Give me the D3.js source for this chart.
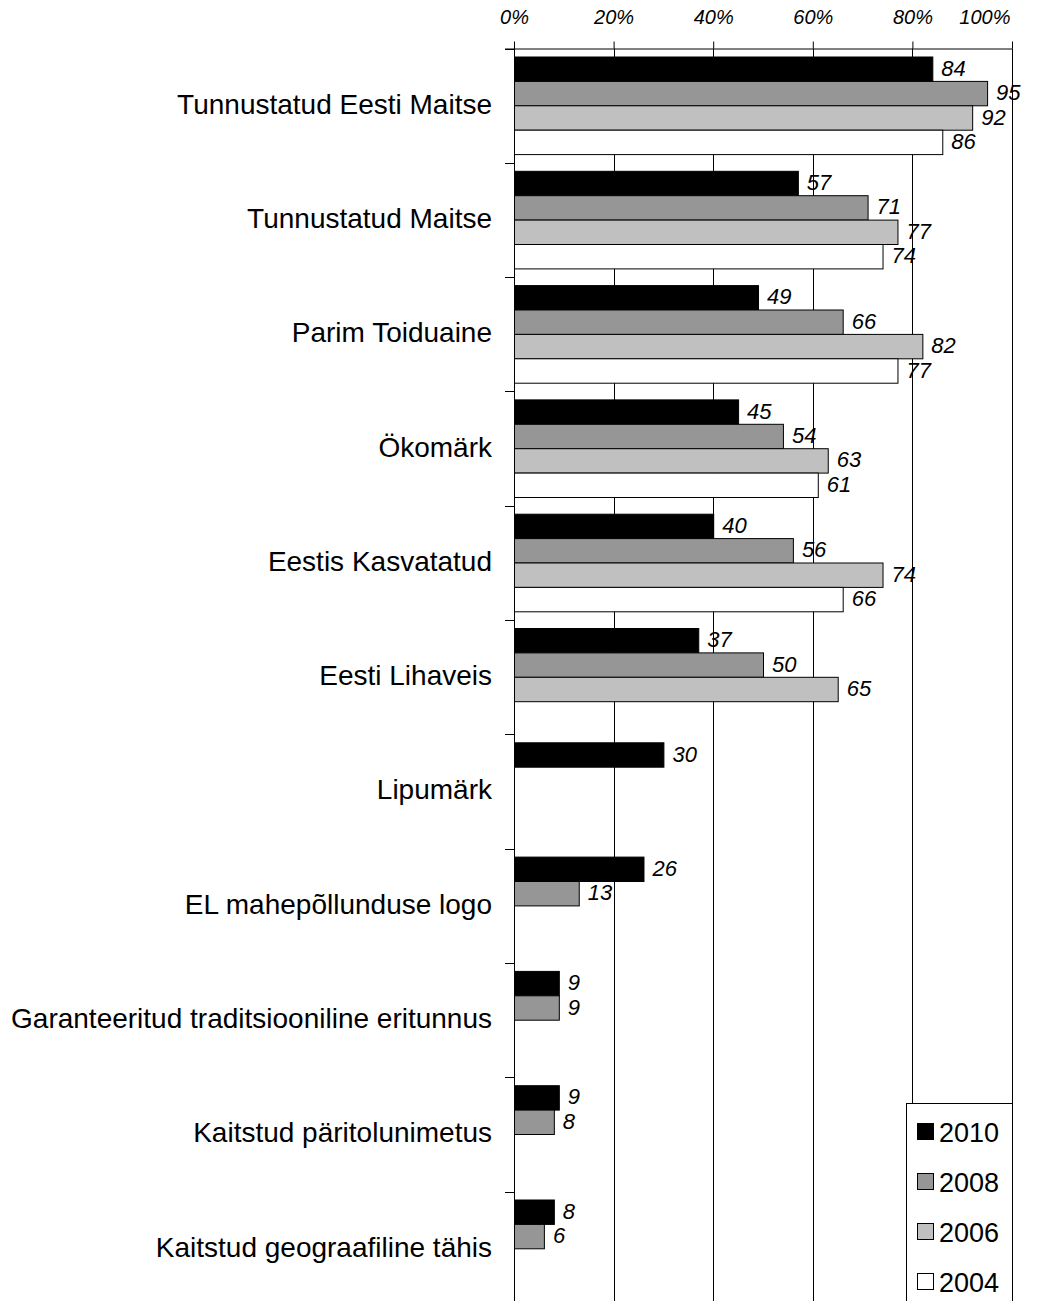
<!DOCTYPE html>
<html><head><meta charset="utf-8">
<script src="https://cdn.jsdelivr.net/npm/d3@7"></script>
<style>
html,body{margin:0;padding:0;background:#fff;}
svg{display:block;font-family:"Liberation Sans",Arial,sans-serif;}
</style></head>
<body><svg id="c" width="1046" height="1301"></svg>
<script>
const categories = ["Tunnustatud Eesti Maitse","Tunnustatud Maitse","Parim Toiduaine","Ökomärk","Eestis Kasvatatud","Eesti Lihaveis","Lipumärk","EL mahepõllunduse logo","Garanteeritud traditsiooniline eritunnus","Kaitstud päritolunimetus","Kaitstud geograafiline tähis"];
const seriesNames = ["2010","2008","2006","2004"];
const v2010 = [84,57,49,45,40,37,30,26,9,9,8];
const v2008 = [95,71,66,54,56,50,null,13,9,8,6];
const v2006 = [92,77,82,63,74,65,null,null,null,null,null];
const v2004 = [86,74,77,61,66,null,null,null,null,null,null];
const seriesColors = ["#000000","#969696","#c0c0c0","#ffffff"];
const tickValues = [0,20,40,60,80,100];

const values = [v2010,v2008,v2006,v2004];
const svg = d3.select("#c");
const x0 = 514, x1 = 1012, yTop = 48.5, band = 114.3;
const x = d3.scaleLinear().domain([0,100]).range([x0,x1]);
const y = d3.scaleBand().domain(categories).range([yTop, yTop + band*categories.length]).padding(0);
const ys = d3.scaleBand().domain(seriesNames).range([8.5, 8.5+97.6]).padding(0);

// gridlines
svg.append("g").selectAll("line").data(tickValues).join("line")
  .attr("x1", d=>Math.round(x(d))+0.5).attr("x2", d=>Math.round(x(d))+0.5)
  .attr("y1", yTop).attr("y2", 1301)
  .attr("stroke","#000").attr("stroke-width",1);

// top axis
const ax = svg.append("g").attr("transform",`translate(0,${yTop})`)
  .call(d3.axisTop(x).tickValues(tickValues).tickFormat(d=>d+"%").tickSize(7).tickSizeOuter(0));
ax.select(".domain").remove();
ax.append("line").attr("x1",505).attr("x2",x1+0.5).attr("y1",0.5).attr("y2",0.5).attr("stroke","#000");
ax.selectAll(".tick line").attr("stroke","#000");
ax.selectAll(".tick text").attr("font-size",20).attr("font-style","italic").attr("fill","#000")
  .attr("font-family","Liberation Sans, Arial, sans-serif").attr("y",-24.5).attr("dy","0");
ax.selectAll(".tick").filter(d=>d===100).select("text").attr("text-anchor","end").attr("x",-2);

// left axis ticks at band boundaries
const bounds = categories.map((c,i)=>yTop + band*i);
svg.append("g").selectAll("line").data(bounds).join("line")
  .attr("x1",505).attr("x2",x0).attr("y1",d=>Math.round(d)+0.5).attr("y2",d=>Math.round(d)+0.5)
  .attr("stroke","#000");

// category labels
svg.append("g").selectAll("text").data(categories).join("text")
  .attr("x",492).attr("y",d=>y(d)+y.bandwidth()/2+8)
  .attr("text-anchor","end")
  .attr("font-size",28).attr("fill","#000").text(d=>d);

// bars
const barData = [];
categories.forEach((c,i)=>{
  seriesNames.forEach((s,j)=>{
    const v = values[j][i];
    if (v!==null) barData.push({c,s,v,color:seriesColors[j]});
  });
});
svg.append("g").selectAll("rect").data(barData).join("rect")
  .attr("x",x(0)+0.5).attr("y",d=>y(d.c)+ys(d.s))
  .attr("width",d=>x(d.v)-x(0)).attr("height",ys.bandwidth())
  .attr("fill",d=>d.color).attr("stroke","#000").attr("stroke-width",1);

// value labels
svg.append("g").selectAll("text").data(barData).join("text")
  .attr("x",d=>x(d.v)+9).attr("y",d=>y(d.c)+ys(d.s)+ys.bandwidth()/2+6.5)
  .attr("font-style","italic")
  .attr("font-size",22).attr("fill","#000").text(d=>d.v);

// axis line at 0 on top
svg.append("line").attr("x1",x0+0.5).attr("x2",x0+0.5).attr("y1",42).attr("y2",1301).attr("stroke","#000");

// legend
const lg = svg.append("g");
lg.append("rect").attr("x",906.5).attr("y",1103.5).attr("width",106).attr("height",220)
  .attr("fill","#fff").attr("stroke","#000");
const lgItems = lg.selectAll("g").data(seriesNames).join("g")
  .attr("transform",(d,i)=>`translate(917,${1132+i*50})`);
lgItems.append("rect").attr("x",0.5).attr("y",-8.5).attr("width",16).attr("height",16)
  .attr("fill",(d,i)=>seriesColors[i]).attr("stroke","#000");
lgItems.append("text").attr("x",22).attr("y",10).
  attr("font-size",27).attr("fill","#000").text(d=>d);
</script></body></html>
